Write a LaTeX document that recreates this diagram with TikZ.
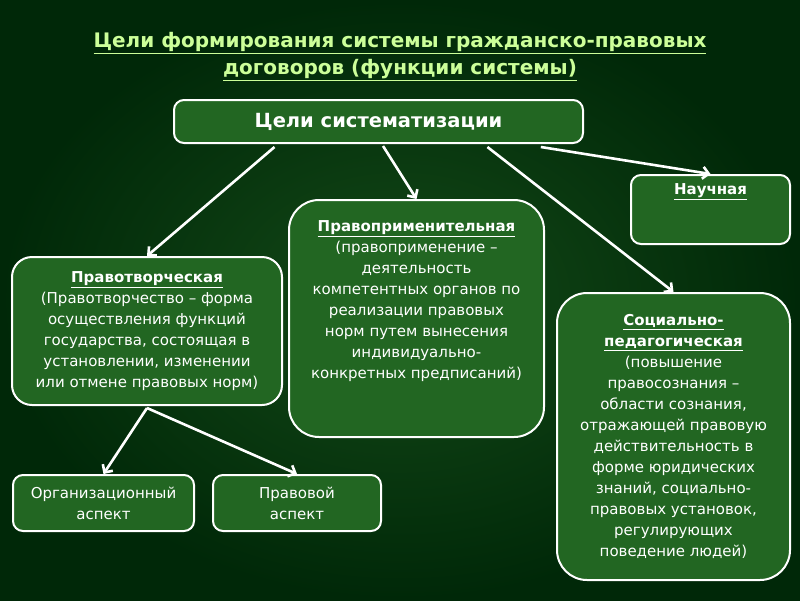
\documentclass[tikz,border=0pt]{standalone}
\usepackage{fontspec}
\setmainfont{DejaVu Sans}
\usetikzlibrary{arrows.meta,calc}
\definecolor{bgin}{RGB}{20,74,24}
\definecolor{bgout}{RGB}{0,40,8}
\definecolor{boxgreen}{RGB}{34,102,34}
\definecolor{titlegreen}{RGB}{204,255,153}
\tikzset{
  goal/.style={draw=white, line width=2pt, fill=boxgreen, rounded corners=#1,
    text=white, align=center, inner sep=0pt, font=\fontsize{15}{21}\selectfont},
  goal/.default=10pt,
  inner/.style={text=white, align=center, font=\fontsize{15}{21}\selectfont},
  link/.style={draw=white, line width=2.6pt, -{Straight Barb[length=6pt,width=12pt]}}
}
\newcommand{\head}[1]{\textbf{\underline{#1}}}

\begin{document}
\begin{tikzpicture}[x=1pt,y=-1pt]
  % background
  \shade[inner color=bgin, outer color=bgout] (0,0) rectangle (800,600);
  \useasboundingbox (0,0) rectangle (800,600);
  % title
  \node[text=titlegreen, align=center, font=\fontsize{20}{27}\selectfont\bfseries] (title) at (400,57)
    {\underline{Цели формирования системы гражданско-правовых}\\ \underline{договоров (функции системы)}};
  % main box
  \node[goal, minimum width=409pt, minimum height=43pt, font=\fontsize{19.5}{23}\selectfont\bfseries] (aim) at (378.5,121.5)
    {Цели систематизации};
  % functions
  \node[goal, minimum width=159pt, minimum height=69pt] (sci) at (710.5,209.5) {};
  \node[inner, anchor=north] (scitext) at ($(sci.north)+(0,6)$) {\head{Научная}};
  \node[goal=20pt, minimum width=270pt, minimum height=148pt] (lawmake) at (147,331)
    {\head{Правотворческая}\\ (Правотворчество – форма\\ осуществления функций\\ государства, состоящая в\\
     установлении, изменении\\ или отмене правовых норм)};
  \node[goal=30pt, minimum width=255pt, minimum height=237pt] (lawapply) at (416.5,318.5) {};
  \node[inner, anchor=north] (applytext) at ($(lawapply.north)+(0,18)$)
    {\head{Правоприменительная}\\ (правоприменение –\\ деятельность\\ компетентных органов по\\
     реализации правовых\\ норм путем вынесения\\ индивидуально-\\ конкретных предписаний)};
  \node[goal=30pt, minimum width=233pt, minimum height=287pt] (social) at (673.5,436.5)
    {\head{Социально-}\\ \head{педагогическая}\\ (повышение\\ правосознания –\\ области сознания,\\
     отражающей правовую\\ действительность в\\ форме юридических\\ знаний, социально-\\
     правовых установок,\\ регулирующих\\ поведение людей)};
  % aspects
  \node[goal, minimum width=181pt, minimum height=56pt] (org) at (103.5,503) {Организационный\\ аспект};
  \node[goal, minimum width=168pt, minimum height=56pt] (legal) at (297,503) {Правовой\\ аспект};
  % arrows
  \draw[link] ($(aim.south west)!0.247!(aim.south east)+(0,3)$) -- (lawmake.north);
  \draw[link] ($(aim.south west)!0.511!(aim.south east)+(0,2)$) -- (lawapply.north);
  \draw[link] ($(aim.south west)!0.765!(aim.south east)+(0,3)$) -- (social.north);
  \draw[link] ($(aim.south west)!0.895!(aim.south east)+(0,3)$) -- (sci.north);
  \draw[link] ($(lawmake.south)+(0,2)$) -- (org.north);
  \draw[link] ($(lawmake.south)+(0,2)$) -- (legal.north);
\end{tikzpicture}
\end{document}
